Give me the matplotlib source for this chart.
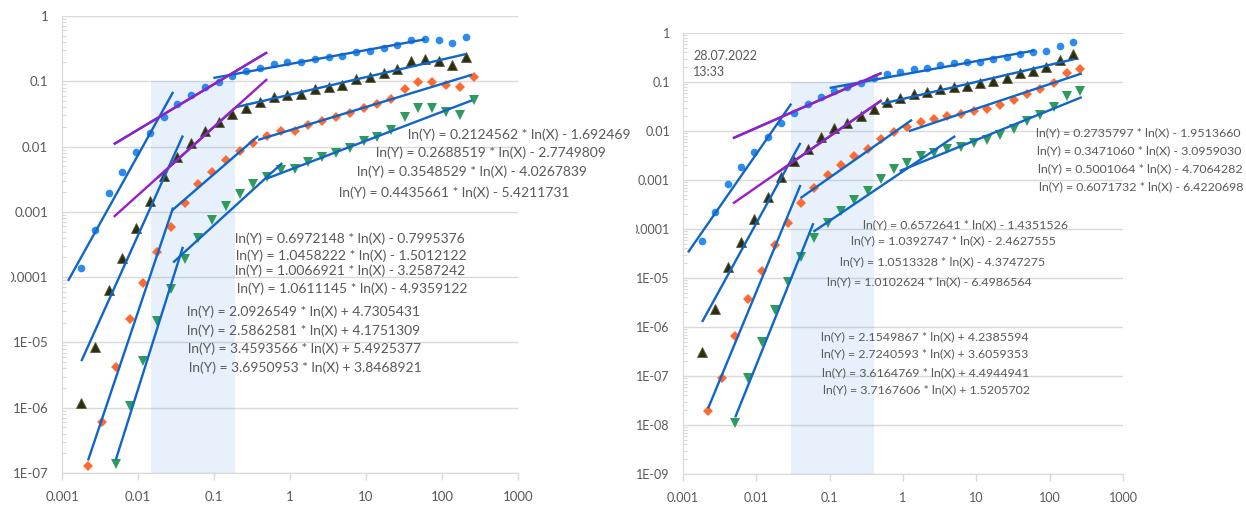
import numpy as np
import matplotlib.pyplot as plt
from matplotlib.patches import Rectangle
from matplotlib.ticker import LogLocator, NullLocator, NullFormatter

plt.rcParams['font.family'] = ['Lato', 'DejaVu Sans']

# x grids shared by both panels (circles/up-triangles use x_a, diamonds/down-triangles x_b)
x_a = [0.0018, 0.0027, 0.0041, 0.0062, 0.0094, 0.0143, 0.0217, 0.033, 0.050, 0.076,
       0.115, 0.174, 0.264, 0.40, 0.61, 0.92, 1.40, 2.12, 3.22, 4.9,
       7.4, 11.2, 17.0, 25.9, 39.2, 59.5, 90, 137, 210]
x_b = [0.0022, 0.0034, 0.0051, 0.0078, 0.0118, 0.0179, 0.0271, 0.041, 0.062, 0.095,
       0.144, 0.218, 0.33, 0.50, 0.76, 1.15, 1.75, 2.65, 4.0, 6.1,
       9.3, 14.0, 21.3, 32.3, 49, 74, 113, 171, 260]

# left panel
l_blue = [1.38e-4, 5.28e-4, 1.95e-3, 4.08e-3, 8.26e-3, 0.0161, 0.0284, 0.0449, 0.0617, 0.0818,
          0.0976, 0.1205, 0.144, 0.16, 0.184, 0.198, 0.198, 0.22, 0.236, 0.244,
          0.281, 0.291, 0.324, 0.36, 0.429, 0.444, 0.429, 0.386, 0.477]
l_black = [1.19e-6, 8.53e-6, 6.37e-5, 1.97e-4, 5.67e-4, 1.47e-3, 3.55e-3, 6.93e-3, 0.0114, 0.0173,
           0.0238, 0.0316, 0.039, 0.0482, 0.0575, 0.0617, 0.0639, 0.0762, 0.0818, 0.0877,
           0.108, 0.116, 0.134, 0.154, 0.205, 0.22, 0.205, 0.178, 0.236]
l_orange = [1.28e-7, 6.06e-7, 4.22e-6, 2.29e-5, 8.15e-5, 2.43e-4, 5.87e-4, 1.37e-3, 2.67e-3, 4.08e-3,
            6.23e-3, 8.57e-3, 0.0114, 0.0145, 0.0173, 0.0173, 0.0214, 0.0247, 0.0284, 0.0327,
            0.039, 0.0449, 0.0536, 0.0762, 0.0976, 0.0976, 0.0877, 0.0818, 0.116]
l_green = [1.38e-7, 1.07e-6, 5.21e-6, 2.13e-5, 6.6e-5, 1.9e-4, 3.98e-4, 7.51e-4, 1.23e-3, 1.88e-3,
           2.67e-3, 3.42e-3, 4.38e-3, 4.54e-3, 5.81e-3, 6.93e-3, 7.98e-3, 9.53e-3, 0.0122, 0.014,
           0.0179, 0.0284, 0.039, 0.039, 0.0339, 0.0305, 0.0517]

# right panel
r_blue = [5.69e-5, 2.22e-4, 8.29e-4, 1.84e-3, 3.73e-3, 7.55e-3, 0.0146, 0.0233, 0.0356, 0.0494,
          0.0655, 0.079, 0.0954, 0.121, 0.146, 0.16, 0.184, 0.193, 0.222, 0.244,
          0.256, 0.256, 0.295, 0.324, 0.373, 0.41, 0.429, 0.543, 0.655]
r_black = [3.09e-7, 2.33e-6, 1.68e-5, 5.43e-5, 1.6e-4, 4.5e-4, 1.15e-3, 2.44e-3, 4.3e-3, 7.55e-3,
           0.0115, 0.0146, 0.0202, 0.0281, 0.0391, 0.0471, 0.0569, 0.0625, 0.072, 0.079,
           0.0828, 0.0954, 0.105, 0.121, 0.153, 0.168, 0.202, 0.281, 0.373]
r_orange = [1.93e-8, 9.1e-8, 6.55e-7, 3.73e-6, 1.39e-5, 4.71e-5, 1.33e-4, 3.39e-4, 6.87e-4, 1.26e-3,
            2.02e-3, 3.09e-3, 4.3e-3, 6.87e-3, 9.55e-3, 0.0121, 0.0153, 0.0176, 0.0202, 0.0222,
            0.0256, 0.0281, 0.034, 0.043, 0.0569, 0.072, 0.0954, 0.153, 0.184]
r_green = [1.1e-8, 9.1e-8, 4.94e-7, 2.22e-6, 8.28e-6, 2.68e-5, 6.55e-5, 1.33e-4, 2.33e-4, 3.91e-4,
           5.97e-4, 1.05e-3, 1.67e-3, 2.22e-3, 3.09e-3, 3.56e-3, 4.3e-3, 4.71e-3, 5.69e-3, 6.55e-3,
           8.28e-3, 0.011, 0.016, 0.0212, 0.0309, 0.0518, 0.0655]

# power-law fits ln(Y) = k*ln(X) + c, with the x range each is drawn over
l_top_k = ["0.2124562", "0.2688519", "0.3548529", "0.4435661"]
l_top_c = ["-1.692469", "-2.7749809", "-4.0267839", "-5.4211731"]
l_top_x0 = [0.098, 0.19, 0.38, 0.5]
l_top_x1 = [60, 207, 250, 250]
l_mid_k = ["0.6972148", "1.0458222", "1.0066921", "1.0611145"]
l_mid_c = ["-0.7995376", "-1.5012122", "-3.2587242", "-4.9359122"]
l_mid_x0 = [0.0048, 0.0178, 0.028, 0.029]
l_mid_x1 = [0.5, 0.19, 0.38, 0.79]
l_steep_k = ["2.0926549", "2.5862581", "3.4593566", "3.6950953"]
l_steep_c = ["+4.7305431", "+4.1751309", "+5.4925377", "+3.8468921"]
l_steep_x0 = [0.0012, 0.0018, 0.0022, 0.0051]
l_steep_x1 = [0.029, 0.039, 0.029, 0.039]

r_top_k = ["0.2735797", "0.3471060", "0.5001064", "0.6071732"]
r_top_c = ["-1.9513660", "-3.0959030", "-4.7064282", "-6.4220698"]
r_top_x0 = [0.1, 0.51, 1.2, 0.9]
r_top_x1 = [62, 220, 274, 274]
r_mid_k = ["0.6572641", "1.0392747", "1.0513328", "1.0102624"]
r_mid_c = ["-1.4351526", "-2.4627555", "-4.3747275", "-6.4986564"]
r_mid_x0 = [0.0048, 0.02, 0.040, 0.060]
r_mid_x1 = [0.51, 0.51, 1.33, 5.15]
r_steep_k = ["2.1549867", "2.7240593", "3.6164769", "3.7167606"]
r_steep_c = ["+4.2385594", "+3.6059353", "+4.4944941", "+1.5205702"]
r_steep_x0 = [0.00117, 0.00182, 0.0022, 0.00515]
r_steep_x1 = [0.030, 0.040, 0.040, 0.060]

# shaded x band (up to y = 0.1)
l_band = [0.0147, 0.189]
r_band = [0.030, 0.40]

x_ticks = [0.001, 0.01, 0.1, 1, 10, 100, 1000]
x_labels = ["0.001", "0.01", "0.1", "1", "10", "100", "1000"]
l_yticks = [1e-7, 1e-6, 1e-5, 1e-4, 1e-3, 1e-2, 0.1, 1]
l_ylabels = ["1E-07", "1E-06", "1E-05", "0.0001", "0.001", "0.01", "0.1", "1"]
r_yticks = [1e-9, 1e-8, 1e-7, 1e-6, 1e-5, 1e-4, 1e-3, 1e-2, 0.1, 1]
r_ylabels = ["1E-09", "1E-08", "1E-07", "1E-06", "1E-05", "0.0001", "0.001", "0.01", "0.1", "1"]

C_BLUE = '#2B8CEE'
C_BLACK = '#2E2E0C'
C_ORANGE = '#FF6A33'
C_GREEN = '#2E9A5C'
C_LINE = '#0F66C8'
C_PURPLE = '#9A1DC6'
C_TXT = '#595959'
C_GRID = '#D9D9D9'

W, H = 1246, 505
fig = plt.figure(figsize=(W / 100, H / 100), dpi=100)
ax1 = fig.add_axes([62 / W, 32 / H, 456 / W, 457 / H])
ax2 = fig.add_axes([683 / W, 31 / H, 440 / W, 441 / H])


def setup(ax, ylo, yticks, ylabels, fs, pad):
    ax.set_xscale('log')
    ax.set_yscale('log')
    ax.set_xlim(0.001, 1000)
    ax.set_ylim(ylo, 1)
    ax.set_xticks(x_ticks)
    ax.set_xticklabels(x_labels)
    ax.set_yticks(yticks)
    ax.set_yticklabels(ylabels)
    ax.xaxis.set_minor_locator(NullLocator())
    ax.yaxis.set_minor_locator(LogLocator(base=10, subs=np.arange(2, 10), numticks=20))
    ax.yaxis.set_minor_formatter(NullFormatter())
    ax.tick_params(axis='x', which='major', direction='out', length=5, width=1,
                   color=C_GRID, labelsize=fs, labelcolor=C_TXT, pad=8)
    ax.tick_params(axis='y', which='major', length=0, labelsize=fs, labelcolor=C_TXT, pad=pad)
    ax.tick_params(axis='y', which='minor', direction='in', length=3, width=0.8, color=C_GRID)
    for s in ['top', 'right']:
        ax.spines[s].set_visible(False)
    for s in ['left', 'bottom']:
        ax.spines[s].set_color(C_GRID)
    ax.set_axisbelow(True)
    ax.yaxis.grid(True, which='major', color=C_GRID, lw=1)


def trend(ax, k, c, x0, x1, color, z=4):
    xs = np.array([x0, x1])
    ax.plot(xs, np.exp(float(k) * np.log(xs) + float(c)), color=color, lw=1.7,
            zorder=z, solid_capstyle='butt')


def eqn(k, c):
    return f"ln(Y) = {k} * ln(X) {c[0]} {c[1:]}"


def ftext(x, y, s, fs):
    fig.text(x / W, 1 - y / H, s, fontsize=fs, color=C_TXT, va='center', ha='left')


def panel(ax, blue, black, orange, green, band, ylo,
          top, mid, steep):
    ax.fill_between(band, [ylo, ylo], [0.1, 0.1], color='#3A8BE0', alpha=0.12, lw=0, zorder=1)
    ax.plot(x_a, blue, 'o', color=C_BLUE, ms=5.5, mew=0, zorder=3)
    ax.plot(x_a, black, '^', color=C_BLACK, ms=6.5, mec='#5a5a40', mew=0.6, zorder=3)
    ax.plot(x_b, orange, 'D', color=C_ORANGE, ms=5, mew=0, zorder=3)
    ax.plot(x_b[2:], green, 'v', color=C_GREEN, ms=6.5, mew=0, zorder=3)
    for group in (top, steep):
        for k, c, x0, x1 in zip(*group):
            trend(ax, k, c, x0, x1, C_LINE)
    mk, mc, mx0, mx1 = mid
    for i in range(4):
        trend(ax, mk[i], mc[i], mx0[i], mx1[i], C_LINE)
    # extended mid fits of the first two series
    for i in range(2):
        trend(ax, mk[i], mc[i], mid[2][0], mid[3][0], C_PURPLE, z=5)


setup(ax1, 1e-7, l_yticks, l_ylabels, 9.5, 10)
setup(ax2, 1e-9, r_yticks, r_ylabels, 9, 9.4)

panel(ax1, l_blue, l_black, l_orange, l_green, l_band, 1e-7,
      (l_top_k, l_top_c, l_top_x0, l_top_x1),
      (l_mid_k, l_mid_c, l_mid_x0, l_mid_x1),
      (l_steep_k, l_steep_c, l_steep_x0, l_steep_x1))
panel(ax2, r_blue, r_black, r_orange, r_green, r_band, 1e-9,
      (r_top_k, r_top_c, r_top_x0, r_top_x1),
      (r_mid_k, r_mid_c, r_mid_x0, r_mid_x1),
      (r_steep_k, r_steep_c, r_steep_x0, r_steep_x1))

# equation labels
for (x, y), k, c in zip([(408, 135), (376, 153), (357, 172), (339, 193)], l_top_k, l_top_c):
    ftext(x, y, eqn(k, c), 10)
for (x, y), k, c in zip([(235, 239), (236, 256), (235, 271), (237, 289)], l_mid_k, l_mid_c):
    ftext(x, y, eqn(k, c), 10)
for (x, y), k, c in zip([(187, 312), (187, 331), (188, 349), (189, 368)], l_steep_k, l_steep_c):
    ftext(x, y, eqn(k, c), 10)
for (x, y), k, c in zip([(1036, 133), (1037, 151), (1038, 169), (1039, 187)], r_top_k, r_top_c):
    ftext(x, y, eqn(k, c), 8.9)
for (x, y), k, c in zip([(863, 225), (851, 241), (840, 262), (827, 282)], r_mid_k, r_mid_c):
    ftext(x, y, eqn(k, c), 8.9)
for (x, y), k, c in zip([(821, 337), (821, 354), (822, 373), (823, 390)], r_steep_k, r_steep_c):
    ftext(x, y, eqn(k, c), 8.9)

ftext(693, 56, "28.07.2022", 9)
ftext(693, 72, "13:33", 9)

# the two panels were cut from separate screenshots: trim label edges
fig.add_artist(Rectangle((600 / W, 1 - 245 / H), 36 / W, 80 / H, transform=fig.transFigure,
                         facecolor='white', edgecolor='none', zorder=10))
fig.add_artist(Rectangle((0, 1 - 296 / H), 11 / W, 36 / H, transform=fig.transFigure,
                         facecolor='white', edgecolor='none', zorder=10))

fig.savefig('out.png', dpi=100)
